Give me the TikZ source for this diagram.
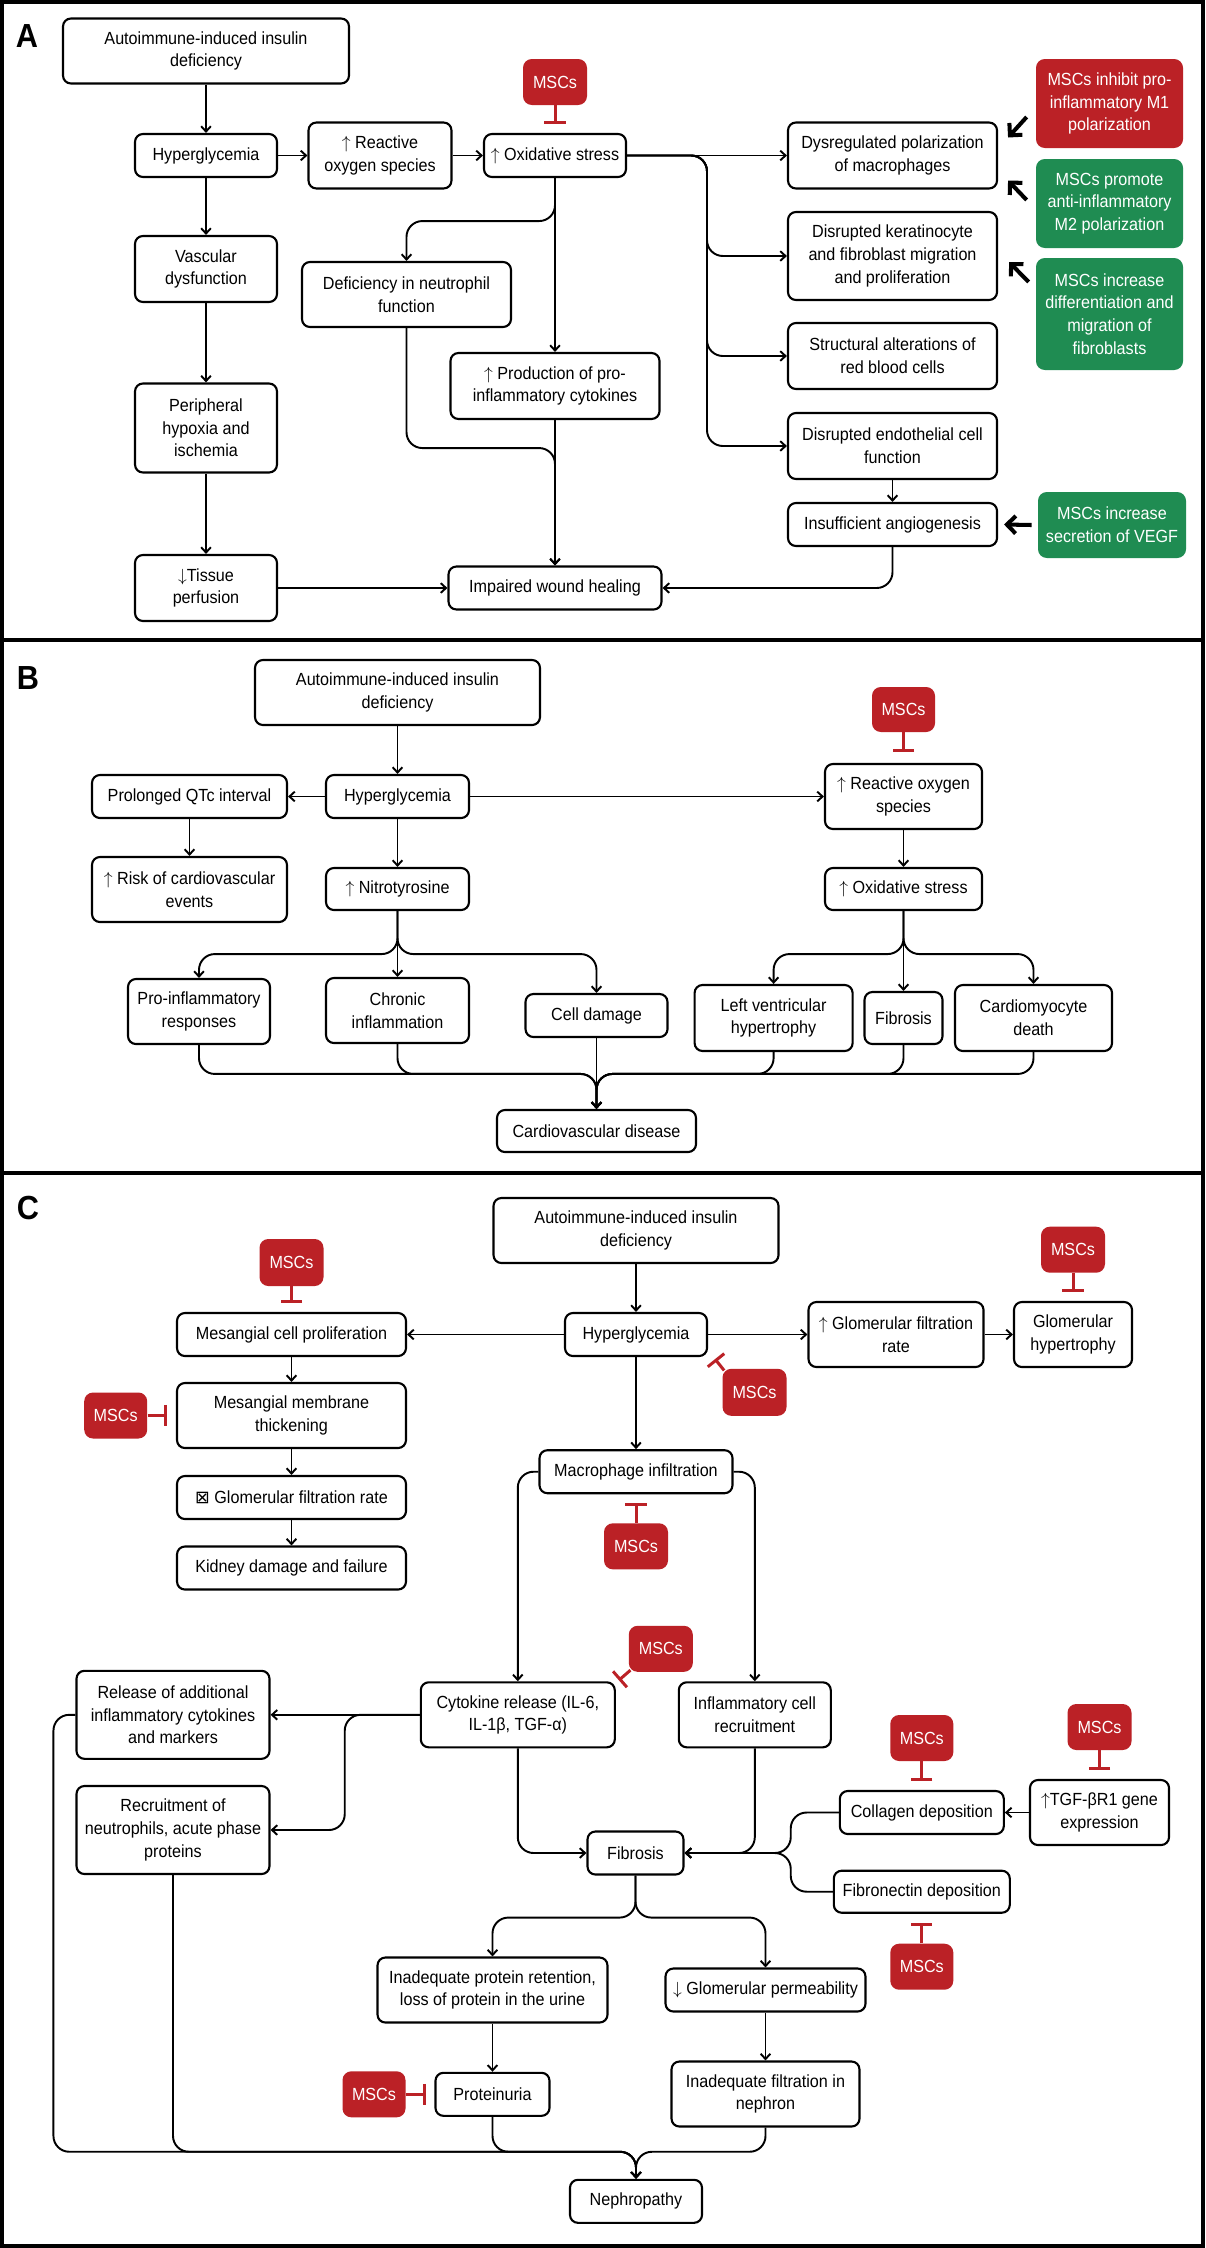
\documentclass[tikz,border=0pt]{standalone}
\usepackage{fontspec}
\setmainfont{Liberation Sans}[FakeStretch=0.92]
\newfontfamily\symfont{DejaVu Sans}
\usetikzlibrary{arrows.meta,calc}

\definecolor{mscred}{RGB}{187,33,38}
\definecolor{mscgreen}{RGB}{31,140,82}
\newlength\pxl
\setlength\pxl{0.02cm}
\newcommand{\up}{$\uparrow$}
\newcommand{\dn}{$\downarrow$}

\begin{document}
\begin{tikzpicture}[
    x = 0.02cm, y = -0.02cm,
    block/.style 2 args = {draw, line width=1.2pt, rounded corners=4.5pt, fill=white,
      align=center, inner sep=0pt, minimum width=#1\pxl, minimum height=#2\pxl},
    mscbox/.style 2 args = {fill=mscred, text=white, rounded corners=5pt,
      align=center, inner sep=0pt, minimum width=#1\pxl, minimum height=#2\pxl},
    goodbox/.style 2 args = {mscbox={#1}{#2}, fill=mscgreen},
    link/.style = {line width=1.1pt, rounded corners=9pt, -{Straight Barb[length=3pt,width=5.5pt]}},
    inhibit/.style = {draw=mscred, line width=1.7pt, -{Bar[width=12pt]}},
    push/.style = {line width=2.3pt, -{Straight Barb[length=5pt,width=10pt]}},
    frame/.style = {line width=1.8pt},
    tag/.style = {font=\fontsize{19}{19}\selectfont\bfseries}
  ]
  \tikzset{every node/.style={anchor=center, font=\fontsize{10}{12.9}\selectfont}}
  \useasboundingbox[fill=white] (0,0) rectangle (1205,2248);
  \draw[frame] (2,2) rectangle (1203,2246);
  \draw[frame] (2,640) -- (1203,640);
  \draw[frame] (2,1173) -- (1203,1173);

  % panel A
  \node[tag] (labA) at (27,36) {A};
  \node[block={286}{65}] (A1) at (206,51) {Autoimmune-induced insulin\\deficiency};
  \node[block={142}{43}] (A2) at (206,155.5) {Hyperglycemia};
  \node[block={143}{66}] (A3) at (380,155.5) {\up\ Reactive\\oxygen species};
  \node[block={142}{43}] (A4) at (555,155.5) {\up\ Oxidative stress};
  \node[block={142}{66}] (A5) at (206,269) {Vascular\\dysfunction};
  \node[block={142}{89}] (A6) at (206,428) {Peripheral\\hypoxia and\\ischemia};
  \node[block={142}{66}] (A7) at (206,588) {\dn Tissue\\perfusion};
  \node[block={213}{43}] (A8) at (555,588) {Impaired wound healing};
  \node[block={209}{65}] (A9) at (406.5,294.5) {Deficiency in neutrophil\\function};
  \node[block={209}{66}] (A10) at (555,386) {\up\ Production of pro-\\inflammatory cytokines};
  \node[block={209}{66}] (A11) at (892.5,155.5) {Dysregulated polarization\\of macrophages};
  \node[block={209}{88}] (A12) at (892.5,256) {Disrupted keratinocyte\\and fibroblast migration\\and proliferation};
  \node[block={209}{66}] (A13) at (892.5,356) {Structural alterations of\\red blood cells};
  \node[block={209}{66}] (A14) at (892.5,446) {Disrupted endothelial cell\\function};
  \node[block={209}{43}] (A15) at (892.5,524.5) {Insufficient angiogenesis};
  \node[mscbox={64}{46}] (Am) at (555,82) {MSCs};
  \node[mscbox={147}{89}] (Ag1) at (1109.5,103.5) {MSCs inhibit pro-\\inflammatory M1\\polarization};
  \node[goodbox={147}{89}] (Ag2) at (1109.5,203.5) {MSCs promote\\anti-inflammatory\\M2 polarization};
  \node[goodbox={147}{112}] (Ag3) at (1109.5,314) {MSCs increase\\differentiation and\\migration of\\fibroblasts};
  \node[goodbox={148}{66}] (Ag4) at (1112,525) {MSCs increase\\secretion of VEGF};
  \coordinate (Atrunk) at (707,155.5);

  \draw[link] (A1) -- (A2);
  \draw[link] (A2) -- (A3);
  \draw[link] (A3) -- (A4);
  \draw[link] (A2) -- (A5);
  \draw[link] (A5) -- (A6);
  \draw[link] (A6) -- (A7);
  \draw[link] (A7) -- (A8);
  \draw[link] (A4) -- (A10);
  \draw[link] (A10) -- (A8);
  \draw[link] (A4.south) -- ++(0,43) -| (A9.north);
  \draw[link] (A9.south) |- ($(A10.south)+(0,28)$) -- (A8.north);
  \draw[link] (A4.east) -- (A11.west);
  \foreach \n in {A12,A13,A14}
    \draw[link] (A4.east) -- (Atrunk) |- (\n.west);
  \draw[link] (A14) -- (A15);
  \draw[link] (A15.south) |- (A8.east);
  \draw[inhibit, shorten >=5pt] (Am) -- (A4);
  \draw[push] ($(Ag1.west)+(-9,13.5)$) -- ($(A11.east)+(10,-18)$);
  \draw[push] ($(Ag2.west)+(-9,-3.5)$) -- ($(A11.east)+(10,25)$);
  \draw[push] ($(Ag3.west)+(-7,-32)$) -- ($(A12.east)+(11,6)$);
  \draw[push] ($(Ag4.west)+(-6,0)$) -- ($(A15.east)+(6,0)$);

  % panel B
  \node[tag] (labB) at (28,678) {B};
  \node[block={285}{65}] (B1) at (397.5,692.5) {Autoimmune-induced insulin\\deficiency};
  \node[block={143}{43}] (B2) at (397.5,796.5) {Hyperglycemia};
  \node[block={195}{43}] (B3) at (189.5,796.5) {Prolonged QTc interval};
  \node[block={195}{65}] (B4) at (189.5,889.5) {\up\ Risk of cardiovascular\\events};
  \node[block={143}{42}] (B5) at (397.5,889) {\up\ Nitrotyrosine};
  \node[block={142}{65}] (B6) at (199,1011.5) {Pro-inflammatory\\responses};
  \node[block={143}{65}] (B7) at (397.5,1010.5) {Chronic\\inflammation};
  \node[block={142}{43}] (B8) at (596.5,1015.5) {Cell damage};
  \node[block={199}{42}] (B9) at (596.5,1131) {Cardiovascular disease};
  \node[block={157}{65}] (B14) at (903.5,796.5) {\up\ Reactive oxygen\\species};
  \node[block={157}{42}] (B15) at (903.5,889) {\up\ Oxidative stress};
  \node[block={158}{66}] (B10) at (773.6,1018) {Left ventricular\\hypertrophy};
  \node[block={78}{52}] (B11) at (903.5,1018) {Fibrosis};
  \node[block={157}{66}] (B12) at (1033.5,1018) {Cardiomyocyte\\death};
  \node[mscbox={63}{45}] (Bm) at (903.5,709.5) {MSCs};

  \draw[link] (B1) -- (B2);
  \draw[link] (B2) -- (B3);
  \draw[link] (B3) -- (B4);
  \draw[link] (B2) -- (B5);
  \draw[link] (B2) -- (B14);
  \draw[link] (B14) -- (B15);
  \draw[inhibit, shorten >=6pt] (Bm) -- (B14);
  \foreach \n in {B6,B7,B8}
    \draw[link] (B5.south) -- ++(0,43) -| (\n.north);
  \foreach \n in {B10,B11,B12}
    \draw[link] (B15.south) -- ++(0,43) -| (\n.north);
  \foreach \n in {B6,B7,B10,B11,B12}
    \draw[link] (\n.south) |- ($(B9.north)+(0,-35)$) -- (B9.north);
  \draw[link] (B8) -- (B9);

  % panel C
  \node[tag] (labC) at (28,1208) {C};
  \node[block={285}{65}] (C1) at (636,1230.5) {Autoimmune-induced insulin\\deficiency};
  \node[block={142}{43}] (C2) at (636,1334.5) {Hyperglycemia};
  \node[block={229}{43}] (C3) at (291.5,1334.5) {Mesangial cell proliferation};
  \node[block={229}{65}] (C5) at (291.5,1415.5) {Mesangial membrane\\thickening};
  \node[block={229}{43}] (C7) at (291.5,1497.5) {{\symfont ⊠} Glomerular filtration rate};
  \node[block={229}{43}] (C8) at (291.5,1568) {Kidney damage and failure};
  \node[block={175}{65}] (C9) at (896,1334.5) {\up\ Glomerular filtration\\rate};
  \node[block={118}{65}] (C10) at (1073,1334.5) {Glomerular\\hypertrophy};
  \node[block={193}{43}] (C13) at (636,1471.7) {Macrophage infiltration};
  \node[block={194}{65}] (C15) at (517.8,1714.8) {Cytokine release (IL-6,\\IL-1β, TGF-α)};
  \node[block={152}{65}] (C16) at (754.8,1714.8) {Inflammatory cell\\recruitment};
  \node[block={193}{88}] (C18) at (173,1714.8) {Release of additional\\inflammatory cytokines\\and markers};
  \node[block={193}{88}] (C19) at (173,1830) {Recruitment of\\neutrophils, acute phase\\proteins};
  \node[block={96}{43}] (C20) at (635.5,1853) {Fibrosis};
  \node[block={164}{43}] (C21) at (921.8,1812.5) {Collagen deposition};
  \node[block={176}{42}] (C22) at (921.8,1891.7) {Fibronectin deposition};
  \node[block={139}{65}] (C23) at (1099.5,1812.5) {\up TGF-βR1 gene\\expression};
  \node[block={230}{65}] (C27) at (492.5,1990) {Inadequate protein retention,\\loss of protein in the urine};
  \node[block={200}{43}] (C28) at (765.5,1990) {\dn\ Glomerular permeability};
  \node[block={188}{65}] (C29) at (765.5,2094) {Inadequate filtration in\\nephron};
  \node[block={114}{43}] (C30) at (492.5,2094.3) {Proteinuria};
  \node[block={132}{43}] (C32) at (636,2201.3) {Nephropathy};
  \node[mscbox={64}{47}] (C4) at (291.5,1262.5) {MSCs};
  \node[mscbox={63}{46}] (C6) at (115.7,1415.5) {MSCs};
  \node[mscbox={64}{46}] (C11) at (1073,1249.7) {MSCs};
  \node[mscbox={64}{47}] (C12) at (754.5,1392.3) {MSCs};
  \node[mscbox={64}{46}] (C14) at (636,1546.3) {MSCs};
  \node[mscbox={64}{46}] (C17) at (660.8,1648.8) {MSCs};
  \node[mscbox={63}{46}] (C24) at (921.8,1738) {MSCs};
  \node[mscbox={64}{46}] (C25) at (1099.5,1727) {MSCs};
  \node[mscbox={63}{46}] (C26) at (921.8,1966.7) {MSCs};
  \node[mscbox={63}{46}] (C31) at (374,2094.3) {MSCs};

  \draw[link] (C1) -- (C2);
  \draw[link] (C2) -- (C3);
  \draw[link] (C2) -- (C9);
  \draw[link] (C9) -- (C10);
  \draw[link] (C3) -- (C5);
  \draw[link] (C5) -- (C7);
  \draw[link] (C7) -- (C8);
  \draw[link] (C2) -- (C13);
  \draw[link] (C13.west) -| (C15.north);
  \draw[link] (C13.east) -| (C16.north);
  \draw[link] (C15.west) -- (C18.east);
  \draw[link] (C15.west) -- ++(-75,0) |- (C19.east);
  \draw[link] (C15.south) |- (C20.west);
  \draw[link] (C16.south) |- (C20.east);
  \draw[link] (C21.west) -- ++(-48,0) |- (C20.east);
  \draw[link] (C22.west) -- ++(-42,0) |- (C20.east);
  \draw[link] (C23) -- (C21);
  \draw[link] (C20.south) -- ++(0,42) -| (C27.north);
  \draw[link] (C20.south) -- ++(0,42) -| (C28.north);
  \draw[link] (C27) -- (C30);
  \draw[link] (C28) -- (C29);
  \draw[link] (C18.west) -- ++(-22,0) |- ($(C32.north)+(0,-27)$) -- (C32.north);
  \foreach \n in {C19,C30,C29}
    \draw[link] (\n.south) |- ($(C32.north)+(0,-27)$) -- (C32.north);
  \foreach \m/\n in {C4/C3,C6/C5,C11/C10,C14/C13,C24/C21,C25/C23,C26/C22,C31/C30}
    \draw[inhibit, shorten >=5pt] (\m) -- (\n);
  \draw[inhibit] ($(C12.north west)+(2,2)$) -- ($(C2.south east)+(7,2)$);
  \draw[inhibit] ($(C17.south west)+(2,-2)$) -- ($(C15.north east)+(3,-1)$);
\end{tikzpicture}
\end{document}
